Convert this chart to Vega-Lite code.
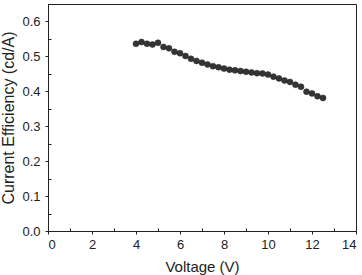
{
  "$schema": "https://vega.github.io/schema/vega-lite/v6.json",
  "width": 308,
  "height": 227,
  "autosize": "none",
  "padding": {"left": 48, "top": 4, "right": 6, "bottom": 44},
  "background": "white",
  "config": {
    "view": {"stroke": "#222", "strokeWidth": 1},
    "font": "Liberation Sans",
    "axis": {
      "grid": false,
      "domainColor": "#222",
      "tickColor": "#222",
      "labelColor": "#222",
      "titleColor": "#222",
      "labelFont": "Liberation Sans",
      "titleFont": "Liberation Sans",
      "labelFontSize": 13,
      "titleFontSize": 15,
      "titleFontWeight": "normal"
    }
  },
  "data": {
    "values": [
      {"voltage": 4.0, "efficiency": 0.536},
      {"voltage": 4.25, "efficiency": 0.541},
      {"voltage": 4.5, "efficiency": 0.536},
      {"voltage": 4.75, "efficiency": 0.534},
      {"voltage": 5.0, "efficiency": 0.539},
      {"voltage": 5.25, "efficiency": 0.527},
      {"voltage": 5.5, "efficiency": 0.523},
      {"voltage": 5.75, "efficiency": 0.513},
      {"voltage": 6.0, "efficiency": 0.509},
      {"voltage": 6.25, "efficiency": 0.501},
      {"voltage": 6.5, "efficiency": 0.493},
      {"voltage": 6.75, "efficiency": 0.487},
      {"voltage": 7.0, "efficiency": 0.482},
      {"voltage": 7.25, "efficiency": 0.477},
      {"voltage": 7.5, "efficiency": 0.472},
      {"voltage": 7.75, "efficiency": 0.469},
      {"voltage": 8.0, "efficiency": 0.465},
      {"voltage": 8.25, "efficiency": 0.462},
      {"voltage": 8.5, "efficiency": 0.46},
      {"voltage": 8.75, "efficiency": 0.458},
      {"voltage": 9.0, "efficiency": 0.456},
      {"voltage": 9.25, "efficiency": 0.454},
      {"voltage": 9.5, "efficiency": 0.452},
      {"voltage": 9.75, "efficiency": 0.451},
      {"voltage": 10.0, "efficiency": 0.448},
      {"voltage": 10.25, "efficiency": 0.442},
      {"voltage": 10.5, "efficiency": 0.437},
      {"voltage": 10.75, "efficiency": 0.431},
      {"voltage": 11.0, "efficiency": 0.427},
      {"voltage": 11.25, "efficiency": 0.419},
      {"voltage": 11.5, "efficiency": 0.413},
      {"voltage": 11.75, "efficiency": 0.399},
      {"voltage": 12.0, "efficiency": 0.394},
      {"voltage": 12.25, "efficiency": 0.386},
      {"voltage": 12.5, "efficiency": 0.381}
    ]
  },
  "mark": {"type": "point", "filled": true, "size": 36, "color": "#2a2a2a", "opacity": 0.95, "stroke": "#1a1a1a", "strokeWidth": 0.5},
  "encoding": {
    "x": {
      "field": "voltage",
      "type": "quantitative",
      "title": "Voltage (V)",
      "scale": {"domain": [0, 14], "nice": false},
      "axis": {
        "values": [0, 1, 2, 3, 4, 5, 6, 7, 8, 9, 10, 11, 12, 13, 14],
        "labelExpr": "datum.value % 2 === 0 ? datum.label : ''",
        "tickSize": {"condition": {"test": "datum.value % 2 === 0", "value": 3}, "value": -3},
        "labelPadding": 4,
        "titlePadding": 8
      }
    },
    "y": {
      "field": "efficiency",
      "type": "quantitative",
      "title": "Current Efficiency (cd/A)",
      "scale": {"domain": [0, 0.65], "nice": false},
      "axis": {
        "values": [0, 0.05, 0.1, 0.15, 0.2, 0.25, 0.3, 0.35, 0.4, 0.45, 0.5, 0.55, 0.6, 0.65],
        "labelExpr": "round(datum.value * 100) % 10 === 0 ? format(datum.value, '.1f') : ''",
        "tickSize": {"condition": {"test": "round(datum.value * 100) % 10 === 0", "value": 3}, "value": -3},
        "labelPadding": 5,
        "titleFontSize": 16,
        "titlePadding": 5
      }
    }
  }
}
